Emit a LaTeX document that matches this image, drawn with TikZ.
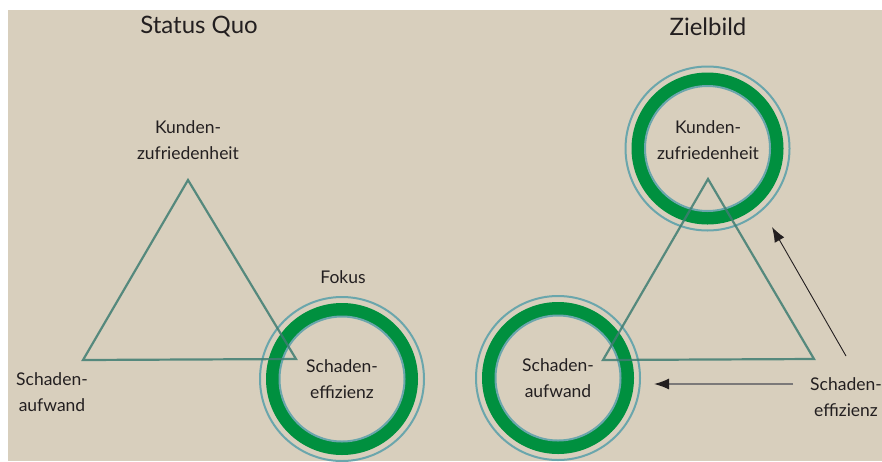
\documentclass[tikz,border=0pt]{standalone}
\usepackage{fontspec}
\setmainfont{Lato}
\usepackage{tikz}
\usetikzlibrary{arrows.meta}
\definecolor{beige}{HTML}{D8CFBD}
\definecolor{ringgreen}{HTML}{00903F}
\definecolor{ringteal}{HTML}{6AA6AC}
\definecolor{triline}{HTML}{3F7D72}
\definecolor{ink}{HTML}{231F20}
\tikzset{>={Latex[length=15pt, width=11pt, color=ink]}}
\tikzset{
  label/.style={align=center, text=ink, font=\fontsize{17.5}{26}\selectfont},
  title/.style={text=ink, font=\fontsize{24}{26}\selectfont},
  triangle/.style={draw=triline, line width=2.2pt, draw opacity=0.85, line join=miter},
  greenring/.style={draw=ringgreen, line width=13pt},
  tealring/.style={draw=ringteal, line width=2pt},
  pointer/.style={->, draw=ink, line width=0.9pt}
}
\begin{document}
\begin{tikzpicture}[x=1pt, y=-1pt]
  \useasboundingbox (0,0) rectangle (882,461);
  \fill[white] (0,0) rectangle (882,461);
  \fill[beige] (8,10) rectangle (882,461);

  % titles
  \node[title] (sq) at (199,27) {Status Quo};
  \node[title] (zb) at (708,27) {Zielbild};

  % status quo
  \node[label] (kz1) at (188,140) {Kunden-\\zufriedenheit};
  \node[label] (sa1) at (52,392) {Schaden-\\aufwand};
  \node[label] (fok) at (343,277) {Fokus};
  \node[label] (se1) at (342,379) {Schaden-\\effizienz};
  \draw[tealring] (se1.center) circle (82);
  \draw[greenring] (se1.center) circle (69.5);
  \draw[tealring] (se1.center) circle (62.5);
  \coordinate (a1) at (188,180);
  \coordinate (b1) at (83,360);
  \coordinate (c1) at (296,359);
  \draw[triangle] (a1) -- (b1) -- (c1) -- cycle;

  % zielbild
  \node[label] (kz2) at (708,140) {Kunden-\\zufriedenheit};
  \draw[tealring] (707.5,148.5) circle (82);
  \draw[greenring] (707.5,148.5) circle (69.5);
  \draw[tealring] (707.5,148.5) circle (62.5);
  \node[label] (sa2) at (558,378) {Schaden-\\aufwand};
  \draw[tealring] (sa2.center) circle (82);
  \draw[greenring] (sa2.center) circle (69.5);
  \draw[tealring] (sa2.center) circle (62.5);
  \coordinate (a2) at (708,179);
  \coordinate (b2) at (603,360);
  \coordinate (c2) at (814,359);
  \draw[triangle] (a2) -- (b2) -- (c2) -- cycle;

  % arrows
  \node[label] (se2) at (846,397) {Schaden-\\effizienz};
  \coordinate (p1) at (846,356);
  \coordinate (q1) at (772,227);
  \coordinate (p2) at (793,384);
  \coordinate (q2) at (654,384);
  \draw[pointer] (p1) -- (q1);
  \draw[pointer, draw=ink!60, line width=1.4pt] (p2) -- (q2);
\end{tikzpicture}
\end{document}
